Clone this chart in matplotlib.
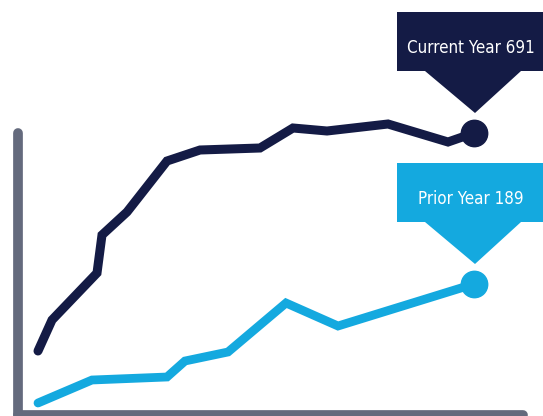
import matplotlib
matplotlib.use("Agg")
from matplotlib import pyplot as plt
from matplotlib.patches import Polygon
from matplotlib import font_manager

# Données (unités arbitraires)
cur_x = [20, 34, 79, 84, 109, 149, 182, 242, 275, 309, 370, 430, 456]
cur_y = [64, 95, 142, 180, 203, 254, 265, 267, 287, 284, 291, 273, 282]
prior_x = [20, 74, 149, 167, 210, 268, 320, 456]
prior_y = [12, 35, 38, 54, 63, 112, 89, 131]

cur_label = "Current Year 691"
prior_label = "Prior Year 189"

navy = "#141b45"
blue = "#14a9df"
grey = "#646a7d"

# Chercher une police condensée installée
narrow = None
for f in font_manager.fontManager.ttflist:
    n = (f.name + " " + f.fname).lower()
    if ("narrow" in n or "condensed" in n or f.stretch in ("condensed", 600)) \
            and "bold" not in n and "oblique" not in n and "italic" not in n:
        narrow = f.fname
        break
if narrow:
    fp = font_manager.FontProperties(fname=narrow, size=12.2)
else:
    fp = font_manager.FontProperties(family="Liberation Sans", size=11)

fig = plt.figure(figsize=(5.43, 4.16), dpi=100)
ax = fig.add_axes([0, 0, 1, 1])
ax.set_xlim(-18, 525)
ax.set_ylim(-1, 415)
ax.axis("off")

# Axes dessinés à la main
ax.plot([0, 0], [0, 282], color=grey, lw=7, solid_capstyle="round", zorder=1)
ax.plot([0, 505], [0, 0], color=grey, lw=7, solid_capstyle="round", zorder=1)

# Courbes
ax.plot(cur_x, cur_y, color=navy, lw=6.5, solid_capstyle="round",
        solid_joinstyle="miter", zorder=3)
ax.plot(cur_x[-1], cur_y[-1], "o", color=navy, ms=19, zorder=4)
ax.plot(prior_x, prior_y, color=blue, lw=6.3, solid_capstyle="round",
        solid_joinstyle="miter", zorder=3)
ax.plot(prior_x[-1], prior_y[-1], "o", color=blue, ms=19, zorder=4)


def callout(xe, ye, color, text):
    # bulle avec pointe au-dessus du dernier point
    pts = [(xe + 1, ye + 20), (xe - 49, ye + 62), (xe - 77, ye + 62),
           (xe - 77, ye + 121), (xe + 75, ye + 121), (xe + 75, ye + 62),
           (xe + 47, ye + 62)]
    ax.add_patch(Polygon(pts, closed=True, color=color, lw=0, zorder=5))
    ax.text(xe - 3, ye + 80, text, color="white", fontproperties=fp,
            ha="center", va="baseline", zorder=6)


callout(cur_x[-1], cur_y[-1], navy, cur_label)
callout(prior_x[-1], prior_y[-1], blue, prior_label)

fig.savefig("out.png", dpi=100)
